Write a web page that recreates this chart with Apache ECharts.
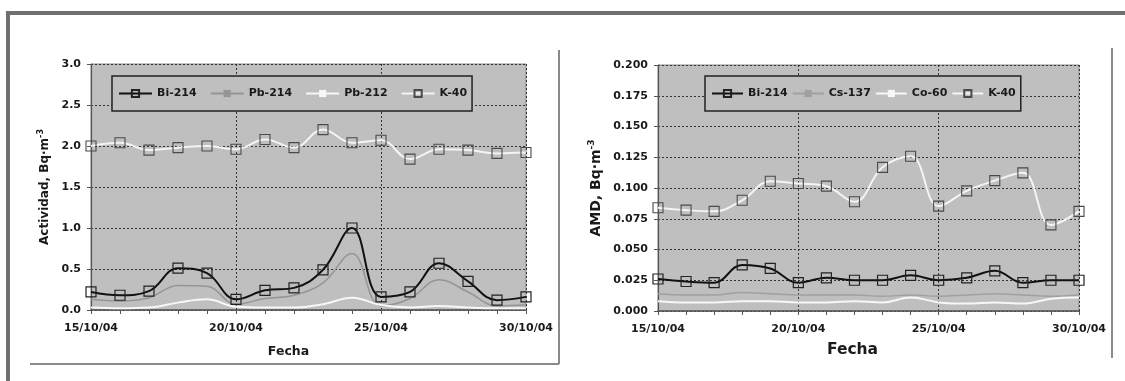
<!DOCTYPE html>
<html>
<head>
<meta charset="utf-8">
<script src="https://cdn.jsdelivr.net/npm/echarts@6/dist/echarts.min.js"></script>
<style>
html,body{margin:0;padding:0;background:#fff;}
#c{width:1125px;height:381px;}
</style>
</head>
<body>
<div id="c"></div>
<script>
const dates = ['15/10/04','16/10/04','17/10/04','18/10/04','19/10/04','20/10/04','21/10/04','22/10/04',
  '23/10/04','24/10/04','25/10/04','26/10/04','27/10/04','28/10/04','29/10/04','30/10/04'];
const leftNames = ['Bi-214','Pb-214','Pb-212','K-40'];
const leftBi214 = [0.22,0.18,0.23,0.51,0.45,0.13,0.24,0.27,0.49,1.00,0.16,0.22,0.57,0.35,0.12,0.16];
const leftPb214 = [0.13,0.11,0.15,0.30,0.29,0.07,0.14,0.18,0.33,0.69,0.05,0.14,0.37,0.22,0.05,0.06];
const leftPb212 = [0.03,0.02,0.03,0.09,0.13,0.04,0.03,0.03,0.07,0.15,0.06,0.03,0.05,0.03,0.02,0.02];
const leftK40 = [2.00,2.04,1.95,1.98,2.00,1.96,2.08,1.98,2.20,2.04,2.07,1.84,1.96,1.95,1.91,1.92];
const rightNames = ['Bi-214','Cs-137','Co-60','K-40'];
const rightBi214 = [0.026,0.024,0.023,0.0375,0.0346,0.023,0.027,0.025,0.025,0.029,0.025,0.027,0.0327,0.023,0.025,0.025];
const rightCs137 = [0.014,0.013,0.013,0.015,0.014,0.013,0.013,0.013,0.012,0.013,0.012,0.013,0.014,0.013,0.012,0.013];
const rightCo60 = [0.008,0.007,0.007,0.008,0.008,0.007,0.007,0.008,0.007,0.011,0.007,0.006,0.007,0.006,0.010,0.011];
const rightK40 = [0.084,0.082,0.081,0.090,0.1055,0.1036,0.1015,0.0888,0.1168,0.1258,0.0853,0.0977,0.106,0.1123,0.070,0.081];

const FONT = 'DejaVu Sans';
const TXT = '#1a1a1a';
const BG = '#bfbfbf';
const DASH = 'path://M0,0L10,0L10,1L0,1Z';

function xAxis(gi, nameSize, nameGap, shift) {
  return {
    type: 'category', gridIndex: gi, data: dates, boundaryGap: false,
    name: 'Fecha', nameLocation: 'middle', nameGap: nameGap,
    nameTextStyle: {fontFamily: FONT, fontWeight: 'bold', fontSize: nameSize, color: TXT, padding: [0, shift, 0, 0]},
    axisLine: {show: true, lineStyle: {color: '#555', width: 1.5}},
    axisTick: {show: true, interval: 0, length: 4, lineStyle: {color: '#555'}},
    axisLabel: {interval: 4, margin: 13, fontFamily: FONT, fontWeight: 'bold', fontSize: 11, color: TXT},
    splitLine: {show: true, interval: 4, lineStyle: {color: '#333', type: [2, 2], width: 1}}
  };
}
function yAxis(gi, max, interval, digits, name, nameSize, nameGap) {
  return {
    type: 'value', gridIndex: gi, min: 0, max: max, interval: interval,
    name: name, nameLocation: 'middle', nameGap: nameGap, nameRotate: 90,
    nameTextStyle: {fontFamily: FONT, fontWeight: 'bold', fontSize: nameSize, color: TXT,
      rich: {sup: {fontFamily: FONT, fontWeight: 'bold', fontSize: Math.round(nameSize * 0.65), color: TXT, padding: [0, 0, nameSize * 0.6, 0]}}},
    axisLine: {show: true, lineStyle: {color: '#555', width: 1.2}},
    axisTick: {show: true, length: 4, lineStyle: {color: '#555'}},
    axisLabel: {margin: 10, fontFamily: FONT, fontWeight: 'bold', fontSize: 11, color: TXT,
      formatter: v => v.toFixed(digits)},
    splitLine: {show: true, lineStyle: {color: '#333', type: [2, 2], width: 1}}
  };
}
function legend(names, left, itemWidth, gap, fontSize) {
  return {
    data: names, left: left, top: 76, orient: 'horizontal',
    itemWidth: itemWidth, itemHeight: 9, itemGap: gap,
    padding: [12, 5, 12, 6],
    backgroundColor: BG, borderColor: '#222', borderWidth: 1.5,
    textStyle: {fontFamily: FONT, fontWeight: 'bold', fontSize: fontSize, color: TXT}
  };
}
function sBi(name, gi, data) {
  return {name: name, type: 'line', xAxisIndex: gi, yAxisIndex: gi, data: data, smooth: 0.4,
    symbol: 'rect', symbolSize: 10, showSymbol: true,
    lineStyle: {color: '#111', width: 2},
    itemStyle: {color: 'transparent', borderColor: '#222', borderWidth: 1.2}, z: 3};
}
function sGray(name, gi, data, color, width) {
  return {name: name, type: 'line', xAxisIndex: gi, yAxisIndex: gi, data: data, smooth: 0.4,
    symbol: DASH, showSymbol: false,
    lineStyle: {color: color, width: width},
    itemStyle: {color: color}, z: 3};
}
function sK(name, gi, data) {
  return {name: name, type: 'line', xAxisIndex: gi, yAxisIndex: gi, data: data, smooth: 0.4,
    symbol: 'rect', symbolSize: 10, showSymbol: true,
    lineStyle: {color: '#f4f4f4', width: 2},
    itemStyle: {color: 'transparent', borderColor: '#4a4a4a', borderWidth: 1.1}, z: 4};
}

const chart = echarts.init(document.getElementById('c'), null, {renderer: 'canvas'});
chart.setOption({
  animation: false,
  backgroundColor: '#fff',
  graphic: [
    {type: 'rect', shape: {x: 6, y: 11, width: 1119, height: 4}, style: {fill: '#707070'}, z: 10},
    {type: 'rect', shape: {x: 6, y: 11, width: 4, height: 370}, style: {fill: '#707070'}, z: 10},
    {type: 'line', shape: {x1: 559, y1: 50, x2: 559, y2: 364}, style: {stroke: '#8a8a8a', lineWidth: 2}},
    {type: 'line', shape: {x1: 30, y1: 364, x2: 559, y2: 364}, style: {stroke: '#8a8a8a', lineWidth: 2}},
    {type: 'line', shape: {x1: 1112, y1: 48, x2: 1112, y2: 358}, style: {stroke: '#8a8a8a', lineWidth: 2}}
  ],
  grid: [
    {left: 91, right: 599, top: 64, bottom: 71, show: true, backgroundColor: BG, borderColor: '#8a8a8a', borderWidth: 1},
    {left: 658, right: 46, top: 65, bottom: 70, show: true, backgroundColor: BG, borderColor: '#8a8a8a', borderWidth: 1}
  ],
  legend: [legend(leftNames, 112, 33, 13, 11), legend(rightNames, 705, 31, 4, 11)],
  xAxis: [xAxis(0, 12.5, 35, 40), xAxis(1, 15.5, 31, 32)],
  yAxis: [
    yAxis(0, 3, 0.5, 1, 'Actividad, Bq·m{sup|-3}', 12, 39),
    yAxis(1, 0.2, 0.025, 3, 'AMD, Bq·m{sup|-3}', 14, 53)
  ],
  series: [
    sBi('Bi-214', 0, leftBi214),
    sGray('Pb-214', 0, leftPb214, '#959595', 1.5),
    sGray('Pb-212', 0, leftPb212, '#f7f7f7', 2),
    sK('K-40', 0, leftK40),
    sBi('Bi-214', 1, rightBi214),
    sGray('Cs-137', 1, rightCs137, '#a0a0a0', 1.5),
    sGray('Co-60', 1, rightCo60, '#f7f7f7', 2),
    sK('K-40', 1, rightK40)
  ]
});
</script>
</body>
</html>
